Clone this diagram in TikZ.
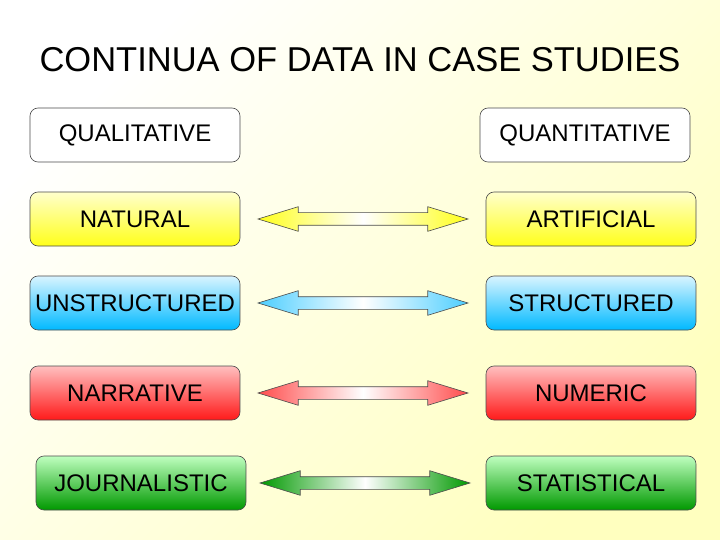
\documentclass[tikz,border=0pt]{standalone}
\usepackage{fontspec}
\setmainfont{Liberation Sans}
\usetikzlibrary{shapes.arrows}
\definecolor{skyb}{RGB}{0,185,255}
\begin{document}
\begin{tikzpicture}[x=1pt,y=-1pt,
  box/.style={draw=black!70,line width=0.6pt,rounded corners=8pt,minimum width=210pt,minimum height=54pt,font=\fontsize{24}{26}\selectfont,inner sep=0pt},
  arr/.style={double arrow,draw=black!70,line width=0.6pt,minimum height=210pt,inner xsep=0pt,inner ysep=6pt,double arrow head extend=6pt,double arrow tip angle=34,text height=0pt,text depth=0pt,text width=0pt}]
\shade[top color=white,bottom color=yellow!25,shading angle=45] (0,0) rectangle (720,540);
\useasboundingbox (0,0) rectangle (720,540);
\node (title) at (360,60) {\fontsize{34.5}{38}\selectfont CONTINUA OF DATA IN CASE STUDIES};
\node[box,fill=white] (ql) at (135,135) {QUALITATIVE};
\node[box,fill=white] (qn) at (585,135) {QUANTITATIVE};
\node[box,top color=yellow!20,bottom color=yellow!90] (na) at (135,219) {NATURAL};
\node[box,top color=yellow!20,bottom color=yellow!90] (ar) at (591,219) {ARTIFICIAL};
\node[box,top color=skyb!15,bottom color=skyb] (un) at (135,303) {UNSTRUCTURED};
\node[box,top color=skyb!15,bottom color=skyb] (st) at (591,303) {STRUCTURED};
\node[box,top color=red!25,bottom color=red!90] (nr) at (135,393) {NARRATIVE};
\node[box,top color=red!25,bottom color=red!90] (nu) at (591,393) {NUMERIC};
\node[box,top color=green!25,bottom color=green!60!black] (jo) at (141,483) {JOURNALISTIC};
\node[box,top color=green!25,bottom color=green!60!black] (sa) at (591,483) {STATISTICAL};
\node[arr,left color=yellow!90,right color=yellow!90,middle color=white] (a1) at (363,219) {};
\node[arr,left color=skyb!70,right color=skyb!70,middle color=white] (a2) at (363,303) {};
\node[arr,left color=red!70,right color=red!70,middle color=white] (a3) at (363,393) {};
\node[arr,left color=green!60!black,right color=green!60!black,middle color=white] (a4) at (365,483) {};
\end{tikzpicture}
\end{document}
